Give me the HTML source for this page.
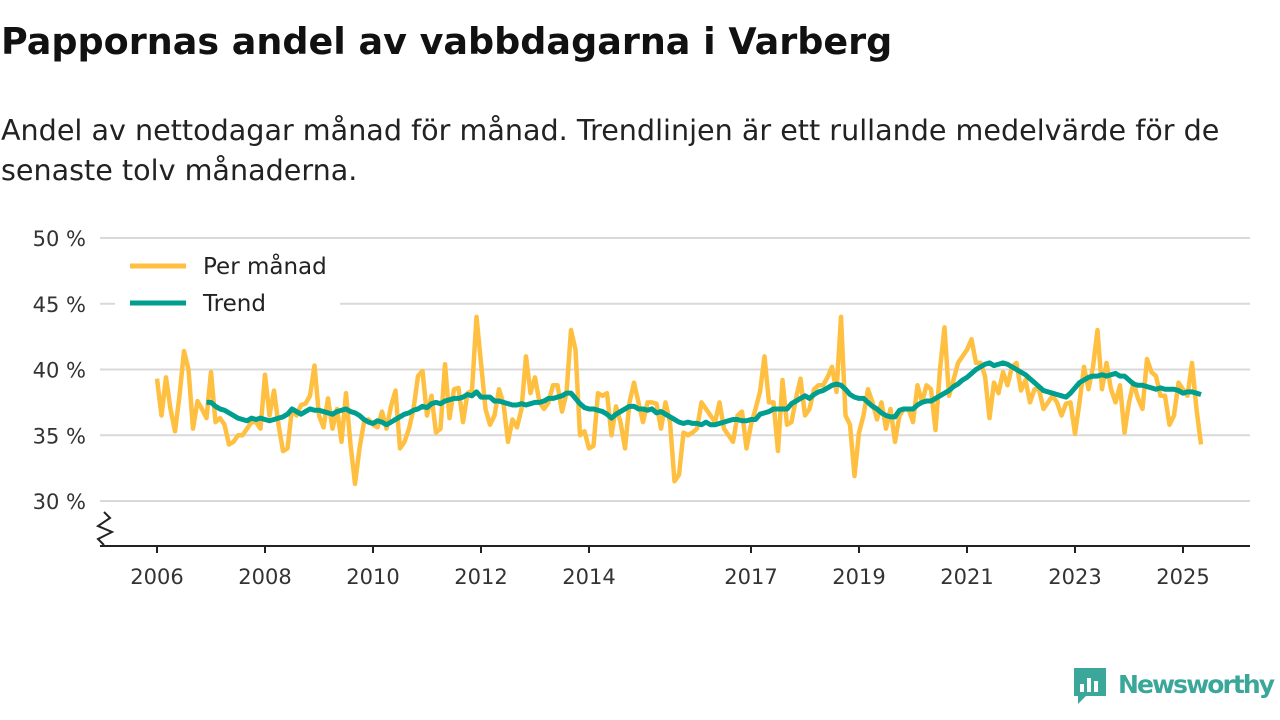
<!DOCTYPE html>
<html><head><meta charset="utf-8"><style>
body{margin:0;background:#fff;width:1280px;height:720px;overflow:hidden;font-family:"DejaVu Sans","Liberation Sans",sans-serif;}
#title{position:absolute;left:1px;top:20px;font-size:36.5px;font-weight:bold;color:#111;margin:0;line-height:44px}
#sub{position:absolute;left:1px;top:110px;font-size:28.6px;line-height:40px;color:#222;width:1262px}
svg{position:absolute;left:0;top:0;font-family:"DejaVu Sans","Liberation Sans",sans-serif}
</style></head><body>
<h1 id="title">Pappornas andel av vabbdagarna i Varberg</h1>
<div id="sub">Andel av nettodagar månad för månad. Trendlinjen är ett rullande medelvärde för de senaste tolv månaderna.</div>
<svg id="chart" width="1280" height="720"></svg>
<script>
const yTicks=[30,35,40,45,50];
const xTickYears=[2006,2008,2010,2012,2014,2017,2019,2021,2023,2025];
const monthly=[
39.3,36.5,39.4,37,35.3,38,41.4,40,35.5,37.6,37,36.3,
39.8,36,36.3,35.8,34.3,34.5,35,35,35.5,36,36,35.5,
39.6,36.5,38.4,35.8,33.8,34,37,36.5,37.3,37.4,38,40.3,
36.5,35.6,37.8,35.5,37,34.5,38.2,34.3,31.3,34,36,36.2,
35.8,35.6,36.8,35.5,37.2,38.4,34,34.5,35.5,37,39.5,39.9,
36.5,38,35.2,35.5,40.4,36.3,38.5,38.6,36,38.2,38.4,44,
40.5,37,35.8,36.5,38.5,37.4,34.5,36.2,35.6,37,41,38.2,
39.4,37.5,37,37.5,38.8,38.8,36.8,38.2,43,41.5,35,35.3,
34,34.2,38.2,38,38.2,35,37.2,36,34,37.5,39,37.5,
36,37.5,37.5,37.4,35.5,37.5,36,31.5,32,35.2,35,35.2,
35.5,37.5,37,36.5,36,37.5,35.5,35,34.5,36.5,36.8,34,
35.8,37,38.3,41,37.5,37.5,33.8,39.2,35.8,36,37.8,39.3,
36.5,37,38.5,38.8,38.8,39.4,40.2,38.3,44,36.5,35.8,31.9,
35.2,36.5,38.5,37.5,36.2,37.5,35.5,37,34.5,36.5,37,37,
36,38.8,37.5,38.8,38.5,35.4,40,43.2,38,39.2,40.5,41,
41.5,42.3,40.5,40.5,39.5,36.3,39,38.2,39.8,38.8,40.2,40.5,
38.4,39.2,37.5,38.5,38.5,37,37.5,38,37.5,36.5,37.4,37.5,
35.1,37.5,40.2,38.5,40.2,43,38.5,40.5,38.5,37.5,38.8,35.2,
37.5,39,37.8,37,40.8,39.8,39.5,38,38,35.8,36.5,39,
38.5,38,40.5,37,34.3];
const trendStart=11;
const trend=[37.5,
37.5,37.2,37.0,36.9,36.7,36.5,36.3,36.2,36.1,36.3,36.2,36.3,
36.2,36.1,36.2,36.3,36.4,36.6,37.0,36.8,36.6,36.8,37.0,36.9,
36.9,36.8,36.7,36.6,36.8,36.9,37.0,36.8,36.7,36.5,36.2,36.0,
35.9,36.1,36.0,35.8,36.0,36.2,36.4,36.6,36.7,36.9,37.0,37.2,
37.1,37.4,37.5,37.4,37.6,37.7,37.8,37.8,37.9,38.1,38.0,38.3,
37.9,37.9,37.9,37.6,37.6,37.5,37.4,37.3,37.3,37.4,37.3,37.4,
37.5,37.5,37.6,37.8,37.8,37.9,38.0,38.2,38.2,37.8,37.4,37.1,
37.0,37.0,36.9,36.8,36.6,36.3,36.6,36.8,37.0,37.2,37.2,37.0,
37.0,36.9,37.0,36.7,36.8,36.6,36.4,36.2,36.0,35.9,36.0,35.9,
35.9,35.8,36.0,35.8,35.8,35.9,36.0,36.1,36.2,36.2,36.1,36.1,
36.2,36.2,36.6,36.7,36.8,37.0,37.0,37.0,37.0,37.4,37.6,37.8,
38.0,37.8,38.1,38.3,38.4,38.6,38.8,38.9,38.8,38.5,38.1,37.9,
37.8,37.8,37.5,37.2,37.0,36.7,36.5,36.4,36.4,36.9,37.0,37.0,
37.0,37.3,37.5,37.6,37.6,37.8,38.0,38.2,38.4,38.7,38.9,39.2,
39.4,39.7,40.0,40.2,40.4,40.5,40.3,40.4,40.5,40.4,40.2,40.0,
39.8,39.6,39.3,39.0,38.7,38.4,38.3,38.2,38.1,38.0,37.9,38.2,
38.6,39.0,39.2,39.4,39.5,39.5,39.6,39.5,39.6,39.7,39.5,39.5,
39.2,38.9,38.8,38.8,38.7,38.6,38.5,38.6,38.5,38.5,38.5,38.4,
38.2,38.3,38.3,38.2,38.1];
const NS='http://www.w3.org/2000/svg';
const svg=document.getElementById('chart');
const X=m=>157+m*54/12;
const XY=yr=>157+(yr-2006)*54;
const Y=v=>501-(v-30)*263/20;
function mk(t,a,txt){const e=document.createElementNS(NS,t);for(const k in a)e.setAttribute(k,a[k]);if(txt!=null)e.textContent=txt;svg.appendChild(e);return e;}
yTicks.forEach(v=>{
 const g=mk('line',{x1:100,x2:1250,y1:Y(v),y2:Y(v),stroke:'#d9d9d9','stroke-width':2});
 
 
 const t=mk('text',{x:86,y:Y(v)+8,'text-anchor':'end','font-size':21,fill:'#333'},v+' %');
 
 
});
const ax=mk('line',{x1:100,x2:1250,y1:546,y2:546,stroke:'#222','stroke-width':2});


const br=mk('path',{d:'M104 512 L110 518 L98 526 L112 532 L98 539 L104 545',fill:'none',stroke:'#222','stroke-width':2});


xTickYears.forEach(yr=>{
 const tk=mk('line',{x1:XY(yr),x2:XY(yr),y1:546,y2:553,stroke:'#222','stroke-width':2});
 
 
 const t=mk('text',{x:XY(yr),y:584,'text-anchor':'middle','font-size':21,fill:'#333'},yr);
 
 
});
const p1=mk('polyline',{points:monthly.map((v,i)=>X(i)+','+Y(v)).join(' '),fill:'none',stroke:'#ffbf40','stroke-width':4.5,'stroke-linejoin':'round'});


const p2=mk('polyline',{points:trend.map((v,i)=>X(i+trendStart)+','+Y(v)).join(' '),fill:'none',stroke:'#009e8e','stroke-width':5,'stroke-linejoin':'round'});


const lb=mk('rect',{x:115,y:246,width:225,height:76,fill:'#fff'});


[['Per månad','#ffbf40',266],['Trend','#009e8e',303]].forEach(([n,c,y])=>{
 const l=mk('line',{x1:130,x2:186,y1:y,y2:y,stroke:c,'stroke-width':5});
 
 
 const t=mk('text',{x:203,y:y+8,'font-size':23,fill:'#222'},n);
 
 
});
const ic=mk('g',{});


ic.innerHTML='<path d="M1074 668 h32 v28 h-20 l-8 8 v-8 h-4 z" fill="#3aa79a"/><rect x="1080" y="684" width="4" height="8" fill="#fff"/><rect x="1087" y="678" width="4" height="14" fill="#fff"/><rect x="1094" y="681" width="4" height="11" fill="#fff"/>';
const lt=mk('text',{x:1118,y:693,'font-size':25,'font-weight':'bold',fill:'#3aa79a',textLength:157},'Newsworthy');


</script>
</body></html>
